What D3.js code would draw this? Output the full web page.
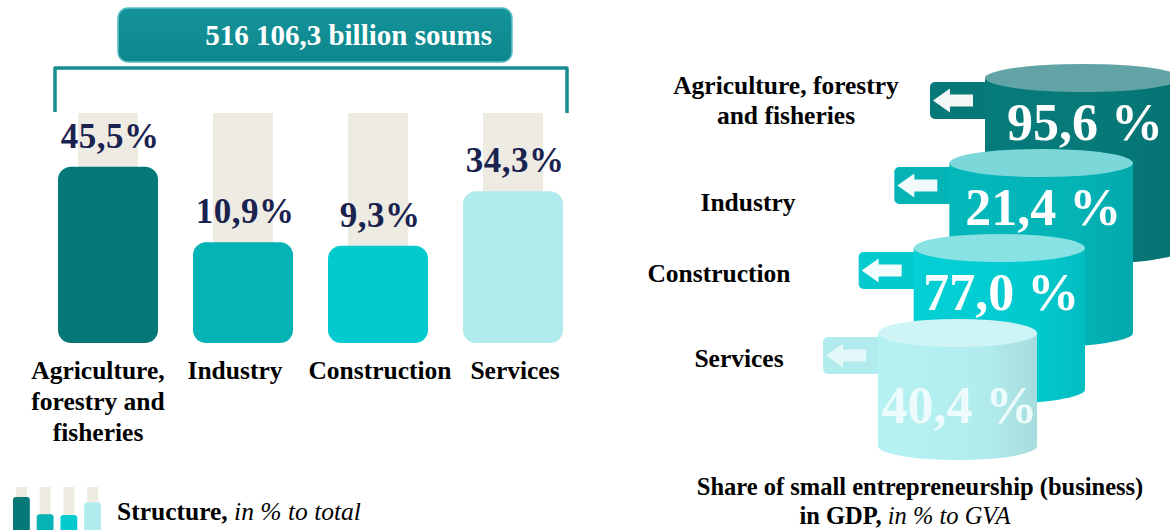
<!DOCTYPE html>
<html>
<head>
<meta charset="utf-8">
<script src="https://cdn.jsdelivr.net/npm/d3@7"></script>
<style>
  html, body { margin: 0; padding: 0; background: #ffffff; }
  svg { display: block; }
  text { font-family: "Liberation Serif", "Times New Roman", serif; }
</style>
</head>
<body>
<svg id="chart" width="1170" height="530"></svg>
<script>
// ---- data ----
const categories = ["Agriculture, forestry and fisheries", "Industry", "Construction", "Services"];
const structureShare = [45.5, 10.9, 9.3, 34.3];        // % of total GVA
const smallBusinessShare = [95.6, 21.4, 77.0, 40.4];   // % of sector GVA
const totalLabel = "516 106,3 billion soums";
const barLabelLines = [["Agriculture,", "forestry and", "fisheries"], ["Industry"], ["Construction"], ["Services"]];
const cylLabelLines = [["Agriculture, forestry", "and fisheries"], ["Industry"], ["Construction"], ["Services"]];
const legendTitle = ["Structure,", " in % to total"];
const rightTitle = ["Share of small entrepreneurship (business)", "in GDP,", " in % to GVA"];

// ---- styling ----
const palette = ["#067878", "#03b3b6", "#02cacf", "#b1ebed"];
const cylTops = ["#62a4a5", "#7cd7d9", "#88e1e3", "#cff4f5"];
const paleCol = "#eeebe3";
const navy = "#1a2350";
const frame = "#178b90";
const fmt = v => d3.format(".1f")(v).replace(".", ",");

const svg = d3.select("#chart");
const defs = svg.append("defs");

// ================= Left: structure bars =================
const x = d3.scaleBand().domain(categories).range([58, 563]).paddingInner(35 / 135).paddingOuter(0);
const y = d3.scaleLinear().domain([0, 50]).range([266, 157]); // bars stand on a pedestal
const baseY = 343;

// heading box
const boxGrad = defs.append("linearGradient").attr("id", "boxGrad").attr("x1", 0).attr("x2", 0).attr("y1", 0).attr("y2", 1);
boxGrad.append("stop").attr("offset", "0%").attr("stop-color", "#14939a");
boxGrad.append("stop").attr("offset", "100%").attr("stop-color", "#0d878d");
svg.append("rect")
  .attr("x", 118).attr("y", 8).attr("width", 394).attr("height", 54)
  .attr("rx", 10).attr("fill", "url(#boxGrad)")
  .attr("stroke", "#5cbfc3").attr("stroke-width", 1.5);
svg.append("text")
  .attr("x", 492).attr("y", 45).attr("text-anchor", "end")
  .attr("font-size", 29).attr("font-weight", "bold").attr("fill", "#ffffff")
  .text(totalLabel);

// bracket
svg.append("path")
  .attr("d", `M${55},${112} L${55},${68} L${567},${68} L${567},${113}`)
  .attr("fill", "none").attr("stroke", frame).attr("stroke-width", 3.5)
  .attr("stroke-linejoin", "round");

// pale background columns
svg.append("g").selectAll("rect").data(categories).join("rect")
  .attr("x", d => x(d) + x.bandwidth() / 2 - 30)
  .attr("y", 113)
  .attr("width", 60)
  .attr("height", baseY - 130)
  .attr("fill", paleCol);

// bars
svg.append("g").selectAll("rect").data(structureShare).join("rect")
  .attr("x", (d, i) => x(categories[i]))
  .attr("y", d => y(d))
  .attr("width", x.bandwidth())
  .attr("height", d => baseY - y(d))
  .attr("rx", 13)
  .attr("fill", (d, i) => palette[i]);

// value labels
svg.append("g").selectAll("text").data(structureShare).join("text")
  .attr("x", (d, i) => x(categories[i]) + x.bandwidth() / 2 + 2)
  .attr("y", d => y(d) - 19)
  .attr("text-anchor", "middle")
  .attr("font-size", 35).attr("font-weight", "bold")
  .attr("letter-spacing", 0.5)
  .attr("fill", navy)
  .text(d => fmt(d) + "%");

// category labels
const catG = svg.append("g");
barLabelLines.forEach((lines, i) => {
  const t = catG.append("text")
    .attr("x", x(categories[i]) + x.bandwidth() / 2 + (i === 0 ? -10 : i === 1 ? -8 : 2))
    .attr("y", 379)
    .attr("text-anchor", "middle")
    .attr("font-size", 25.5).attr("font-weight", "bold").attr("fill", "#000");
  lines.forEach((ln, k) => t.append("tspan").attr("x", t.attr("x")).attr("dy", k === 0 ? 0 : 31).text(ln));
});

// legend icon (mini bars from the same shares)
const lx = d3.scaleBand().domain(categories).range([13, 101]).paddingInner(7 / 24);
const ly = d3.scaleLinear().domain([0, 50]).range([519.6, 494.7]);
const legG = svg.append("g");
legG.selectAll("rect.bg").data(categories).join("rect").attr("class", "bg")
  .attr("x", d => lx(d) + lx.bandwidth() / 2 - 5.5).attr("y", 487)
  .attr("width", 11).attr("height", 43).attr("fill", paleCol);
legG.selectAll("rect.v").data(structureShare).join("rect").attr("class", "v")
  .attr("x", (d, i) => lx(categories[i])).attr("y", d => ly(d))
  .attr("width", lx.bandwidth()).attr("height", d => 540 - ly(d))
  .attr("rx", 3).attr("fill", (d, i) => palette[i]);
const legT = legG.append("text").attr("x", 117).attr("y", 520)
  .attr("font-size", 25.5).attr("fill", "#000");
legT.append("tspan").attr("font-weight", "bold").text(legendTitle[0]);
legT.append("tspan").attr("font-style", "italic").attr("xml:space", "preserve").text(legendTitle[1]);

// ================= Right: stacked cylinders =================
const idx = d3.range(categories.length);
const cx = d3.scalePoint().domain(categories).range([985, 878]);     // left edge of each cylinder
const cy = d3.scalePoint().domain(categories).range([78, 333]);      // centre of each top ellipse
const cw = d3.scaleLinear().domain([0, 3]).range([196, 159]);        // width shrinks toward the front
const ch = d3.scaleLinear().domain([0, 1, 3]).range([172, 170, 113]); // body height
const ry = 14;

const rightG = svg.append("g");
idx.forEach(i => {
  const c = categories[i];
  const left = cx(c), w = cw(i), rx = w / 2, top = cy(c), bottom = top + ch(i);
  const mid = left + rx;
  const col = palette[i];

  // shading gradient across the body
  const gid = "cyl" + i;
  const g = defs.append("linearGradient").attr("id", gid).attr("x1", 0).attr("x2", 1).attr("y1", 0).attr("y2", 0);
  g.append("stop").attr("offset", "0%").attr("stop-color", d3.color(col).brighter(0.08));
  g.append("stop").attr("offset", "70%").attr("stop-color", col);
  g.append("stop").attr("offset", "100%").attr("stop-color", d3.color(col).darker(0.18));

  // label tab with arrow
  const tabL = left - 55, tabT = top + 4, tabH = 37;
  rightG.append("rect")
    .attr("x", tabL).attr("y", tabT).attr("width", 80).attr("height", tabH)
    .attr("rx", 5).attr("fill", col);
  const ay = tabT + tabH / 2, ax = tabL + 3;
  rightG.append("path")
    .attr("d", `M${ax},${ay} L${ax + 17},${ay - 12} L${ax + 17},${ay - 6} L${ax + 40},${ay - 6} L${ax + 40},${ay + 6} L${ax + 17},${ay + 6} L${ax + 17},${ay + 12} Z`)
    .attr("fill", i === 3 ? "#f4fcfc" : "#ffffff")
    .attr("opacity", i === 3 ? 0.75 : 0.95);

  // body
  rightG.append("path")
    .attr("d", `M${left},${top} L${left},${bottom} A${rx},${ry} 0 0 0 ${left + w},${bottom} L${left + w},${top} Z`)
    .attr("fill", `url(#${gid})`);
  // top
  rightG.append("ellipse")
    .attr("cx", mid).attr("cy", top).attr("rx", rx).attr("ry", ry)
    .attr("fill", cylTops[i]);

  // value inside the visible part of the body
  const visTop = top + ry;
  const visBottom = i < categories.length - 1 ? cy(categories[i + 1]) - ry : bottom + ry;
  rightG.append("text")
    .attr("x", mid + 2).attr("y", (visTop + visBottom) / 2 + 19)
    .attr("text-anchor", "middle")
    .attr("font-size", 52).attr("font-weight", "bold")
    .attr("fill", i === 3 ? "#eefbfc" : "#ffffff")
    .text(fmt(smallBusinessShare[i]) + " %");
});

// sector names beside the tabs
const cylLabelX = [786, 748, 719, 739];
const cylLabelY = [94, 211, 282, 367];
cylLabelLines.forEach((lines, i) => {
  const t = rightG.append("text")
    .attr("x", cylLabelX[i]).attr("y", cylLabelY[i])
    .attr("text-anchor", "middle")
    .attr("font-size", 25.5).attr("font-weight", "bold").attr("fill", "#000");
  lines.forEach((ln, k) => t.append("tspan").attr("x", cylLabelX[i]).attr("dy", k === 0 ? 0 : 30).text(ln));
});

// caption
const cap = svg.append("text").attr("x", 920).attr("y", 495).attr("text-anchor", "middle")
  .attr("font-size", 24.5).attr("fill", "#000");
cap.append("tspan").attr("font-weight", "bold").text(rightTitle[0]);
const cap2 = svg.append("text").attr("x", 905).attr("y", 524).attr("text-anchor", "middle")
  .attr("font-size", 24.5).attr("fill", "#000");
cap2.append("tspan").attr("font-weight", "bold").text(rightTitle[1]);
cap2.append("tspan").attr("font-style", "italic").attr("xml:space", "preserve").text(rightTitle[2]);
</script>
</body>
</html>
